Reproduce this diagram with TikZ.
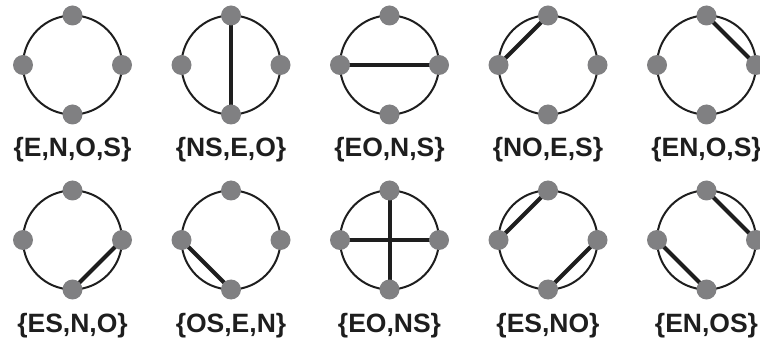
\documentclass[tikz,border=0pt]{standalone}
\usepackage{fontspec}
\setmainfont{Liberation Sans}
\usetikzlibrary{backgrounds}
\definecolor{dotgray}{RGB}{128,128,130}
\definecolor{ink}{RGB}{30,30,30}
\tikzset{
  ringline/.style={draw=ink, line width=2pt},
  chord/.style={draw=ink, line width=4pt},
  dotnode/.style={circle, fill=dotgray, draw=none, inner sep=0pt, minimum size=20pt},
  lbl/.style={anchor=base, inner sep=0pt, font=\fontsize{26.5}{30}\selectfont\bfseries, text=ink}
}
\newcommand\ringdiag[4]{%
  \draw[ringline] (#2,#3) circle[radius=49.5];
  \node[dotnode] (#1N) at (#2,#3-49.5) {};
  \node[dotnode] (#1S) at (#2,#3+49.5) {};
  \node[dotnode] (#1E) at (#2+49.5,#3) {};
  \node[dotnode] (#1O) at (#2-49.5,#3) {};
  \node[lbl] (#1L) at (#2,#3+92) {#4};
}
\begin{document}
\begin{tikzpicture}[x=1pt,y=-1pt]
\useasboundingbox (0,0) rectangle (760,347);
\ringdiag{a}{72.5}{65}{\{E,N,O,S\}}
\ringdiag{b}{231}{65}{\{NS,E,O\}}
\ringdiag{c}{389.5}{65}{\{EO,N,S\}}
\ringdiag{d}{548}{65}{\{NO,E,S\}}
\ringdiag{e}{706.5}{65}{\{EN,O,S\}}
\ringdiag{f}{72.5}{240}{\{ES,N,O\}}
\ringdiag{g}{231}{240}{\{OS,E,N\}}
\ringdiag{h}{389.5}{240}{\{EO,NS\}}
\ringdiag{i}{548}{240}{\{ES,NO\}}
\ringdiag{j}{706.5}{240}{\{EN,OS\}}
\begin{scope}[on background layer]
\draw[chord] (bN.center) -- (bS.center);
\draw[chord] (cE.center) -- (cO.center);
\draw[chord] (dN.center) -- (dO.center);
\draw[chord] (eE.center) -- (eN.center);
\draw[chord] (fE.center) -- (fS.center);
\draw[chord] (gO.center) -- (gS.center);
\draw[chord] (hE.center) -- (hO.center);
\draw[chord] (hN.center) -- (hS.center);
\draw[chord] (iE.center) -- (iS.center);
\draw[chord] (iN.center) -- (iO.center);
\draw[chord] (jE.center) -- (jN.center);
\draw[chord] (jO.center) -- (jS.center);
\end{scope}
\end{tikzpicture}
\end{document}
